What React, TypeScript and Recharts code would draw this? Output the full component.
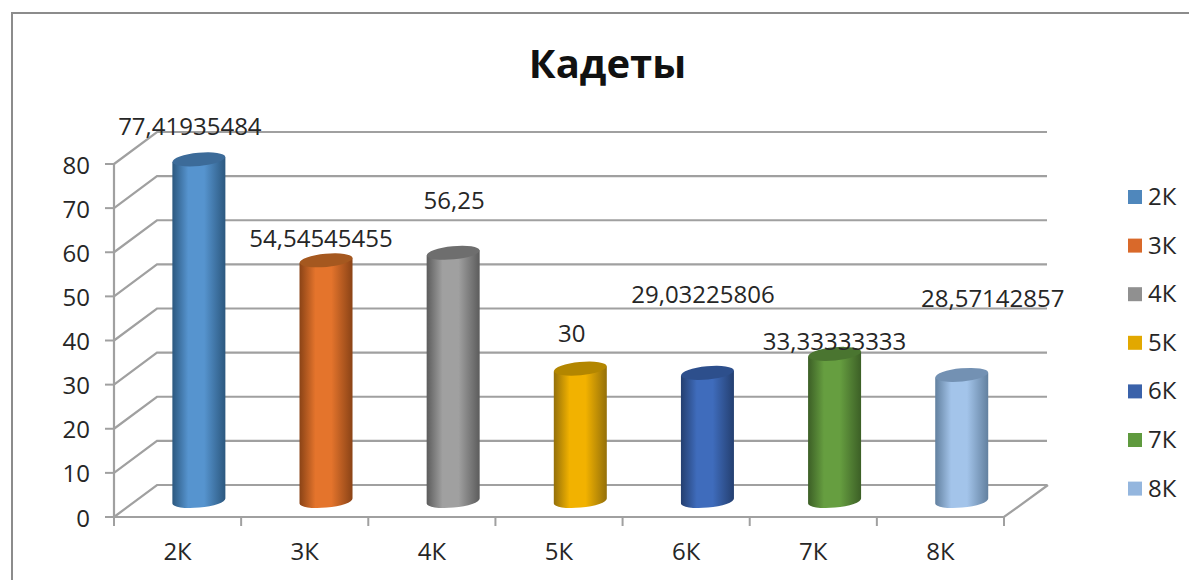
import { BarChart, Bar, XAxis, YAxis, CartesianGrid, LabelList } from "recharts";

const categories = ["2К", "3К", "4К", "5К", "6К", "7К", "8К"];
const values = [77.41935484, 54.54545455, 56.25, 30, 29.03225806, 33.33333333, 28.57142857];
const yTicks = [0, 10, 20, 30, 40, 50, 60, 70, 80];
const title = "Кадеты";

const chartData = categories.map((name, i) => ({ name, value: values[i] }));

const FONT = "'Open Sans', sans-serif";
const FONT_SIZE = 24;
const TEXT_COLOR = "#262626";
const GRID_COLOR = "#a0a0a0";

// body, edge, top
const BAR_COLORS = [
  ["#5694cf", "#2c587f", "#3c6b99"],
  ["#e4742c", "#8a4316", "#a5581f"],
  ["#a0a0a0", "#5c5c5c", "#6e6e6e"],
  ["#f2b200", "#94700a", "#b38600"],
  ["#3f6cbc", "#243f70", "#2d4f8c"],
  ["#669e40", "#3c5f26", "#4a7530"],
  ["#a3c4ea", "#62809f", "#7391b3"],
];
const LEGEND_COLORS = ["#4f87bc", "#d9692a", "#909090", "#e2a800", "#3a62aa", "#5f9a3e", "#94b6de"];

// the fake 3d box: depth of the walls relative to the plane the bars stand on
const DEPTH_X = 21.5;
const DEPTH_Y = 16;

// hand placed labels in the original, offset from top of bar
const LABEL_OFFSETS = [
  [-9, -24.5],
  [-5, -13.5],
  [1, -44],
  [-8.5, -27],
  [-4.5, -70],
  [0, -4],
  [31, -68],
];

function CylinderBar(props: any) {
  const { x, y, width, height, index } = props;
  const rx = width / 2;
  const ry = 6.6;
  const tilt = 2.5;
  const rot = -5.5;
  const left = x;
  const right = x + width;
  const bottom = y + height;
  const body = [
    `M ${left} ${y + tilt}`,
    `L ${left} ${bottom + tilt}`,
    `A ${rx} ${ry} ${rot} 0 0 ${right} ${bottom - tilt}`,
    `L ${right} ${y - tilt}`,
    `Z`,
  ].join(" ");
  return (
    <g>
      <path d={body} fill={`url(#cyl${index})`} />
      <ellipse
        cx={x + rx}
        cy={y}
        rx={rx}
        ry={ry}
        fill={BAR_COLORS[index][2]}
        transform={`rotate(${rot} ${x + rx} ${y})`}
      />
    </g>
  );
}

function GridLine(props: any) {
  const { x1, x2, y1 } = props;
  const fx = x1 - DEPTH_X;
  const bx = x1 + DEPTH_X;
  return (
    <polyline
      points={`${fx},${y1 + DEPTH_Y} ${bx},${y1 - DEPTH_Y} ${x2 + DEPTH_X},${y1 - DEPTH_Y}`}
      fill="none"
      stroke={GRID_COLOR}
      strokeWidth={2.2}
    />
  );
}

function YTick(props: any) {
  const { x, y, payload } = props;
  const fx = x - DEPTH_X;
  const fy = y + DEPTH_Y;
  return (
    <g>
      <line x1={fx - 9} x2={fx} y1={fy} y2={fy} stroke={GRID_COLOR} strokeWidth={2} />
      <text x={fx - 24} y={fy + 9.5} textAnchor="end" fontFamily={FONT} fontSize={FONT_SIZE} fill={TEXT_COLOR}>
        {payload.value}
      </text>
    </g>
  );
}

function XTick(props: any) {
  const { x, y, payload, index } = props;
  const fx = x - DEPTH_X;
  const fy = y + DEPTH_Y;
  const step = 127.14;
  return (
    <g>
      <line x1={fx - step / 2} x2={fx - step / 2} y1={fy} y2={fy + 9} stroke={GRID_COLOR} strokeWidth={2} />
      {index === categories.length - 1 && (
        <line x1={fx + step / 2} x2={fx + step / 2} y1={fy} y2={fy + 9} stroke={GRID_COLOR} strokeWidth={2} />
      )}
      <text x={fx} y={fy + 43} textAnchor="middle" fontFamily={FONT} fontSize={FONT_SIZE} fill={TEXT_COLOR}>
        {payload.value}
      </text>
    </g>
  );
}

function BarLabel(props: any) {
  const { x, y, width, index, value } = props;
  const [dx, dy] = LABEL_OFFSETS[index];
  return (
    <text
      x={x + width / 2 + dx}
      y={y + dy}
      textAnchor="middle"
      fontFamily={FONT}
      fontSize={FONT_SIZE}
      fill={TEXT_COLOR}
    >
      {String(value).replace(".", ",")}
    </text>
  );
}

export default function App() {
  return (
    <div style={{ position: "absolute", left: 0, top: 0, width: 1189, height: 580, background: "#fff", overflow: "hidden" }}>
      <BarChart
        width={1189}
        height={580}
        data={chartData}
        margin={{ top: 148, right: 163.5, bottom: 78, left: 134.5 }}
        barCategoryGap="29%"
      >
        <defs>
          {BAR_COLORS.map(([mid, edge], i) => (
            <linearGradient key={i} id={`cyl${i}`} x1="0" x2="1" y1="0" y2="0">
              <stop offset="0%" stopColor={edge} />
              <stop offset="30%" stopColor={mid} />
              <stop offset="60%" stopColor={mid} />
              <stop offset="100%" stopColor={edge} />
            </linearGradient>
          ))}
        </defs>

        {/* frame */}
        <polyline points="12,580 12,13 1189,13" fill="none" stroke="#8c8c8c" strokeWidth={2} />

        <text x={607.5} y={78} textAnchor="middle" fontFamily={FONT} fontWeight={700} fontSize={40} fill="#111">
          {title}
        </text>

        <CartesianGrid vertical={false} horizontal={(p: any) => <GridLine key={p.key} {...p} />} />

        {/* front edges of the floor and wall */}
        <polyline
          points="114,164 114,517 1004,517 1048,485"
          fill="none"
          stroke={GRID_COLOR}
          strokeWidth={2.2}
        />

        <XAxis
          dataKey="name"
          height={1}
          axisLine={false}
          tickLine={false}
          tickSize={0}
          tickMargin={0}
          interval={0}
          tick={<XTick />}
        />
        <YAxis
          domain={[0, 80]}
          ticks={yTicks}
          width={1}
          axisLine={false}
          tickLine={false}
          tickSize={0}
          tickMargin={0}
          interval={0}
          tick={<YTick />}
        />

        <Bar dataKey="value" isAnimationActive={false} shape={<CylinderBar />}>
          <LabelList dataKey="value" content={<BarLabel />} />
        </Bar>

        {/* legend */}
        {categories.map((name, i) => (
          <g key={name}>
            <rect x={1128} y={190 + i * 48.6} width={14} height={14} fill={LEGEND_COLORS[i]} />
            <text x={1148} y={205 + i * 48.6} fontFamily={FONT} fontSize={FONT_SIZE} fill={TEXT_COLOR}>
              {name}
            </text>
          </g>
        ))}
      </BarChart>
    </div>
  );
}
